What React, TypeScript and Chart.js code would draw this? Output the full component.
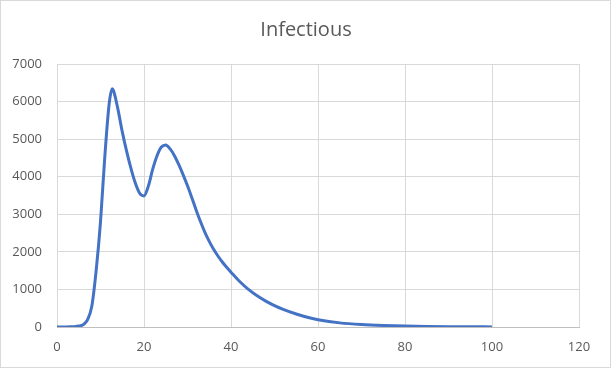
import React, { useEffect, useRef } from "react";
import { Chart, registerables } from "chart.js";

Chart.register(...registerables);

const TITLE = "Infectious";
const days = [0, 1, 2, 3, 4, 5, 6, 7, 8, 9, 10, 11, 12, 12.7, 13, 14, 15, 16, 17, 18, 19, 20, 21, 22, 23, 24, 25, 26, 27, 28, 29, 30, 31, 32, 33, 34, 35, 36, 37, 38, 39, 40, 42, 44, 46, 48, 50, 52, 55, 58, 60, 65, 70, 75, 80, 85, 90, 95, 100];
const infectious = [0, 0, 2, 5, 10, 25, 60, 190, 550, 1500, 2800, 4550, 5950, 6340, 6290, 5800, 5200, 4680, 4220, 3830, 3560, 3490, 3750, 4200, 4560, 4790, 4845, 4740, 4560, 4320, 4050, 3760, 3440, 3110, 2800, 2520, 2280, 2070, 1890, 1730, 1590, 1460, 1210, 1000, 830, 690, 570, 470, 345, 245, 195, 110, 65, 40, 25, 15, 9, 5, 3];
const xTicks = [0, 20, 40, 60, 80, 100, 120];
const yTicks = [0, 1000, 2000, 3000, 4000, 5000, 6000, 7000];

const FONT = "'Open Sans', sans-serif";

export default function App() {
  const ref = useRef<HTMLCanvasElement | null>(null);
  useEffect(() => {
    if (!ref.current) return;
    const decorPlugin = {
      id: "decor",
      afterDraw(chart: any) {
        const ctx = chart.ctx;
        ctx.save();
        ctx.strokeStyle = "#d9d9d9";
        ctx.lineWidth = 1;
        ctx.strokeRect(0.5, 0.5, chart.width - 2, chart.height - 2);
        ctx.fillStyle = "#595959";
        ctx.font = `normal 20px ${FONT}`;
        ctx.textAlign = "center";
        ctx.textBaseline = "middle";
        ctx.fillText(TITLE, chart.width / 2, 30);
        ctx.restore();
      },
    };
    const chart = new Chart(ref.current, {
      type: "scatter",
      data: {
        datasets: [
          {
            label: TITLE,
            data: days.map((d, i) => ({ x: d, y: infectious[i] })),
            showLine: true,
            borderColor: "#4472c4",
            backgroundColor: "#4472c4",
            borderWidth: 3,
            pointRadius: 0,
            cubicInterpolationMode: "monotone",
          },
        ],
      },
      options: {
        animation: false,
        responsive: false,
        layout: { padding: { left: 0, right: 33, top: 0, bottom: 0 } },
        plugins: {
          legend: { display: false },
          tooltip: { enabled: false },
          title: {
            display: true,
            text: TITLE,
            color: "rgba(0,0,0,0)",
            font: { family: FONT, size: 20, weight: "normal" },
            padding: { top: 18, bottom: 22 },
          },
        },
        scales: {
          x: {
            type: "linear",
            min: 0,
            max: 120,
            afterBuildTicks: (s: any) => {
              s.ticks = xTicks.map((v) => ({ value: v }));
            },
            afterFit: (s: any) => {
              s.height = 42;
            },
            ticks: {
              color: "#595959",
              font: { family: FONT, size: 13 },
              padding: 12,
              maxRotation: 0,
            },
            grid: { color: "#d9d9d9", drawTicks: false, lineWidth: 1 },
            border: { display: true, color: "#bfbfbf" },
          },
          y: {
            type: "linear",
            min: 0,
            max: 7000,
            afterBuildTicks: (s: any) => {
              s.ticks = yTicks.map((v) => ({ value: v }));
            },
            afterFit: (s: any) => {
              s.width = 57;
            },
            ticks: {
              color: "#595959",
              font: { family: FONT, size: 13 },
              padding: 15,
              callback: (v: any) => String(v),
            },
            grid: { color: "#d9d9d9", drawTicks: false, lineWidth: 1 },
            border: { display: false },
          },
        },
      },
      plugins: [decorPlugin],
    } as any);
    return () => chart.destroy();
  }, []);
  return (
    <div style={{ position: "fixed", left: 0, top: 0, width: 612, height: 369, background: "#fff" }}>
      <canvas ref={ref} width={612} height={369} style={{ display: "block" }} />
    </div>
  );
}
